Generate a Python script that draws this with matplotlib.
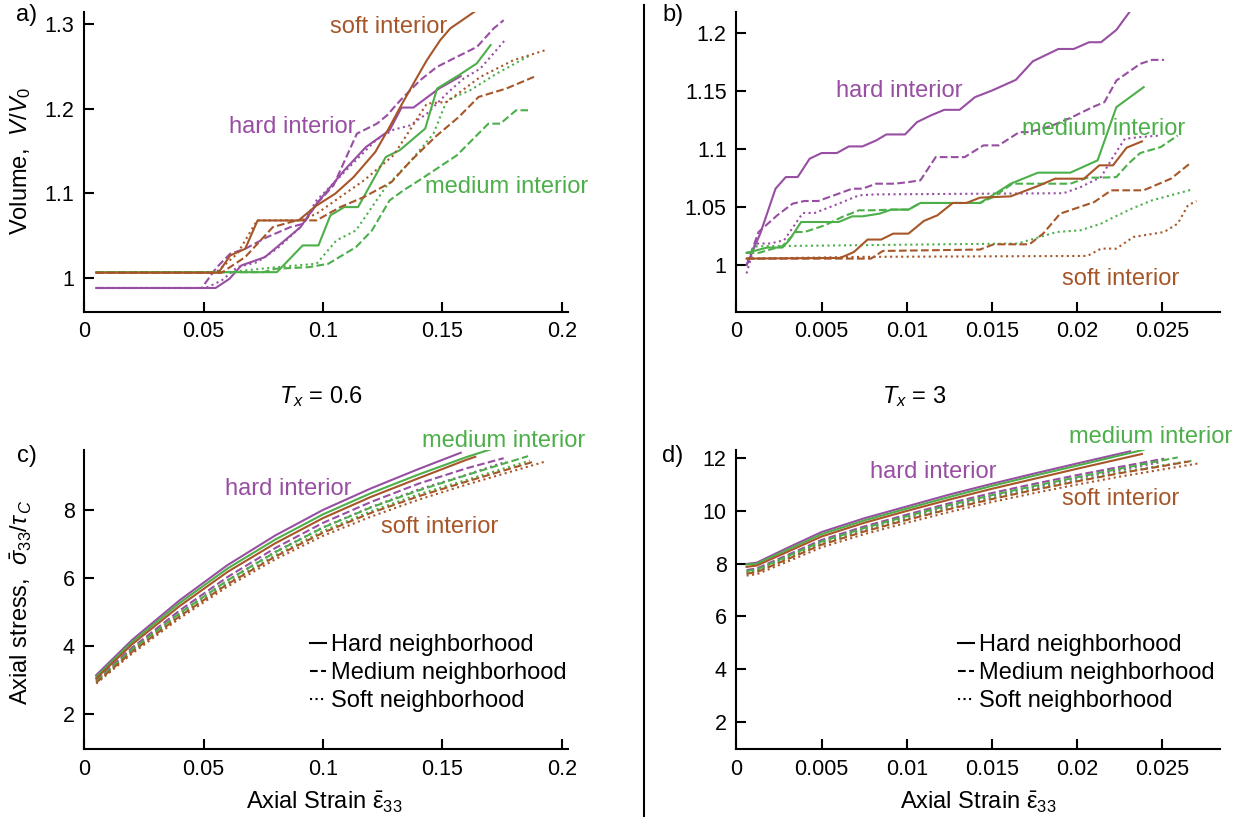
import matplotlib.pyplot as plt
from matplotlib.lines import Line2D

plt.rcParams['font.family'] = ['Liberation Sans', 'DejaVu Sans']
plt.rcParams['mathtext.fontset'] = 'custom'
plt.rcParams['mathtext.rm'] = 'Liberation Sans'
plt.rcParams['mathtext.it'] = 'Liberation Sans:italic'
plt.rcParams['mathtext.bf'] = 'Liberation Sans:bold'

W, H = 1247, 817

PURPLE = '#984ea3'   # hard interior
GREEN = '#4daf4a'    # medium interior
BROWN = '#a65628'    # soft interior

neighborhoods = ['Hard neighborhood', 'Medium neighborhood', 'Soft neighborhood']

# ---- a) volume, T_x = 0.6 -------------------------------------------------
# naming: <interior>_<neighborhood>
a_hard_hard = ([0.005, 0.055, 0.0608, 0.0658, 0.0757, 0.0906, 0.0973, 0.1089, 0.118, 0.1279, 0.1329, 0.1379, 0.1486, 0.1577],
               [0.988, 0.988, 0.9988, 1.0146, 1.0245, 1.06, 1.0876, 1.127, 1.1546, 1.1744, 1.2012, 1.2012, 1.2237, 1.2383])
a_hard_med = ([0.005, 0.0492, 0.0555, 0.0611, 0.0674, 0.0765, 0.0863, 0.0918, 0.0974, 0.1044, 0.1142, 0.1226, 0.1268, 0.1324, 0.1407, 0.1477, 0.1533, 0.1645, 0.1715, 0.1757],
              [0.988, 0.988, 1.0125, 1.0284, 1.0343, 1.048, 1.0599, 1.0639, 1.0876, 1.1092, 1.1704, 1.1822, 1.192, 1.2098, 1.2335, 1.2492, 1.2572, 1.2729, 1.2947, 1.3045])
a_hard_soft = ([0.005, 0.0509, 0.0575, 0.0641, 0.0724, 0.0807, 0.0906, 0.0973, 0.1056, 0.1138, 0.1221, 0.1296, 0.1365, 0.1435, 0.1519, 0.1589, 0.1659, 0.1702, 0.1768],
               [0.988, 0.988, 0.9968, 1.0126, 1.0185, 1.0343, 1.06, 1.0915, 1.1152, 1.1389, 1.1625, 1.1751, 1.1802, 1.194, 1.2178, 1.2355, 1.2473, 1.2611, 1.2828])
a_med_hard = ([0.005, 0.0807, 0.0915, 0.0981, 0.1031, 0.1089, 0.1147, 0.1263, 0.1321, 0.1428, 0.1478, 0.1569, 0.1644, 0.1702],
              [1.0067, 1.0067, 1.0383, 1.0383, 1.0738, 1.0836, 1.0836, 1.1428, 1.1507, 1.1763, 1.2237, 1.2394, 1.2533, 1.275])
a_med_med = ([0.005, 0.075, 0.08, 0.094, 0.1022, 0.1138, 0.1205, 0.1279, 0.1337, 0.1403, 0.1561, 0.1693, 0.1743, 0.1809, 0.1859],
             [1.0067, 1.0067, 1.0107, 1.0126, 1.0166, 1.0363, 1.056, 1.0915, 1.1034, 1.1152, 1.1448, 1.1822, 1.1822, 1.198, 1.198])
a_med_soft = ([0.005, 0.06, 0.0807, 0.0973, 0.1056, 0.1138, 0.1205, 0.1263, 0.137, 0.1463, 0.1519, 0.1617, 0.1728, 0.1868],
              [1.0067, 1.0067, 1.0126, 1.0166, 1.0442, 1.056, 1.0836, 1.1073, 1.1389, 1.1704, 1.2098, 1.2217, 1.2414, 1.263])
a_soft_hard = ([0.005, 0.0562, 0.0611, 0.0674, 0.0726, 0.0897, 0.0974, 0.1051, 0.1128, 0.1219, 0.1275, 0.1324, 0.1379, 0.1435, 0.1491, 0.1533, 0.1638],
               [1.006, 1.006, 1.0264, 1.0343, 1.0678, 1.0678, 1.0856, 1.0994, 1.119, 1.1487, 1.1763, 1.2019, 1.2296, 1.2572, 1.2808, 1.2947, 1.3151])
a_soft_med = ([0.005, 0.0575, 0.0674, 0.079, 0.089, 0.0973, 0.1072, 0.1172, 0.1287, 0.137, 0.147, 0.1569, 0.1652, 0.1768, 0.1884],
              [1.006, 1.006, 1.0245, 1.06, 1.0679, 1.0679, 1.0836, 1.0955, 1.1132, 1.1389, 1.1665, 1.1901, 1.2138, 1.2237, 1.2375])
a_soft_soft = ([0.005, 0.055, 0.0641, 0.0724, 0.0906, 0.0973, 0.1072, 0.1172, 0.1296, 0.1365, 0.1435, 0.1519, 0.1659, 0.1798, 0.1931],
               [1.006, 1.006, 1.0284, 1.0679, 1.0679, 1.0757, 1.0955, 1.1152, 1.145, 1.175, 1.2059, 1.2079, 1.2374, 1.2572, 1.269])

# ---- b) volume, T_x = 3 ---------------------------------------------------
b_hard_hard = ([0.0006, 0.0014, 0.0023, 0.0029, 0.0036, 0.0043, 0.005, 0.0059, 0.0066, 0.0074, 0.0082, 0.0088, 0.0099, 0.0106, 0.0114, 0.0122, 0.0131, 0.014, 0.015, 0.0164, 0.0174, 0.0189, 0.0198, 0.0207, 0.0214, 0.0223, 0.0231],
               [1.0, 1.0272, 1.0659, 1.0759, 1.0759, 1.0917, 1.0966, 1.0966, 1.1023, 1.1023, 1.1074, 1.1126, 1.1126, 1.1232, 1.1289, 1.1338, 1.1338, 1.1447, 1.1504, 1.1596, 1.1756, 1.1862, 1.1862, 1.192, 1.192, 1.2026, 1.2186])
b_hard_med = ([0.0006, 0.0013, 0.0024, 0.0033, 0.004, 0.0048, 0.006, 0.0068, 0.0074, 0.0082, 0.0093, 0.0101, 0.0108, 0.0117, 0.0134, 0.0145, 0.0154, 0.0166, 0.0172, 0.0185, 0.0197, 0.0209, 0.0216, 0.0223, 0.023, 0.0237, 0.0244, 0.0251],
              [1.0, 1.0286, 1.043, 1.053, 1.0553, 1.0553, 1.0616, 1.0659, 1.0659, 1.0702, 1.0702, 1.0716, 1.0731, 1.0931, 1.0931, 1.1032, 1.1032, 1.1146, 1.1146, 1.12, 1.1275, 1.1361, 1.1404, 1.159, 1.1662, 1.1734, 1.1768, 1.1768])
b_hard_soft = ([0.0006, 0.0011, 0.002, 0.0028, 0.0039, 0.0046, 0.006, 0.0072, 0.0082, 0.0192, 0.0202, 0.0214, 0.0221, 0.0228, 0.0237, 0.0249],
               [0.9929, 1.0187, 1.0187, 1.0215, 1.045, 1.045, 1.053, 1.0602, 1.061, 1.062, 1.0673, 1.0759, 1.0931, 1.1089, 1.1103, 1.1117])
b_med_hard = ([0.0006, 0.0018, 0.0027, 0.0031, 0.0038, 0.006, 0.0068, 0.0074, 0.0084, 0.0091, 0.0101, 0.0108, 0.0143, 0.0151, 0.0161, 0.0177, 0.0196, 0.0212, 0.0223, 0.0239],
              [1.0106, 1.0152, 1.0152, 1.0215, 1.0372, 1.0372, 1.0421, 1.0421, 1.0444, 1.0479, 1.0479, 1.0536, 1.0536, 1.0608, 1.0702, 1.0797, 1.0797, 1.0903, 1.1361, 1.1533])
b_med_med = ([0.0006, 0.0013, 0.0027, 0.0035, 0.004, 0.0052, 0.0062, 0.0072, 0.008, 0.0092, 0.0101, 0.0108, 0.0143, 0.0151, 0.0162, 0.0196, 0.0206, 0.0214, 0.0223, 0.023, 0.0237, 0.0249, 0.0259],
             [1.0106, 1.0106, 1.0165, 1.0286, 1.0286, 1.0344, 1.0415, 1.0473, 1.0473, 1.0479, 1.0479, 1.0536, 1.0536, 1.059, 1.0702, 1.0702, 1.0754, 1.0754, 1.0759, 1.0874, 1.0966, 1.1017, 1.1117])
b_med_soft = ([0.0006, 0.0012, 0.0165, 0.0175, 0.0188, 0.0202, 0.0214, 0.0221, 0.0232, 0.0244, 0.0267],
              [1.0106, 1.0163, 1.0187, 1.023, 1.0286, 1.0301, 1.0358, 1.041, 1.0487, 1.0559, 1.065])
b_soft_hard = ([0.0006, 0.0061, 0.0069, 0.0077, 0.0085, 0.0092, 0.0101, 0.011, 0.0118, 0.0127, 0.0135, 0.0143, 0.0161, 0.0178, 0.0187, 0.0204, 0.0213, 0.0221, 0.0229, 0.0238],
               [1.0057, 1.0063, 1.0114, 1.0221, 1.0221, 1.0272, 1.0272, 1.0381, 1.043, 1.0536, 1.0536, 1.0582, 1.0593, 1.0688, 1.0745, 1.0745, 1.086, 1.086, 1.1012, 1.1066])
b_soft_med = ([0.0006, 0.0079, 0.0086, 0.0143, 0.0151, 0.0172, 0.018, 0.019, 0.021, 0.022, 0.0239, 0.0255, 0.0266],
              [1.0057, 1.0057, 1.0123, 1.0135, 1.018, 1.018, 1.0272, 1.0444, 1.0544, 1.0645, 1.0645, 1.0745, 1.0874])
b_soft_soft = ([0.0006, 0.0075, 0.0206, 0.0214, 0.0223, 0.0233, 0.0251, 0.0259, 0.0265, 0.027],
               [1.0057, 1.0072, 1.008, 1.0143, 1.0143, 1.0243, 1.0286, 1.0358, 1.0516, 1.0553])

# ---- c) axial stress, T_x = 0.6 -------------------------------------------
c_hard_hard = ([0.005, 0.02, 0.04, 0.06, 0.08, 0.10, 0.12, 0.14, 0.1577],
               [3.15, 4.18, 5.35, 6.38, 7.25, 8.0, 8.63, 9.2, 9.68])
c_hard_med = ([0.005, 0.02, 0.04, 0.06, 0.08, 0.10, 0.12, 0.14, 0.16, 0.1757],
              [3.0, 3.95, 5.05, 6.03, 6.88, 7.62, 8.23, 8.77, 9.22, 9.52])
c_hard_soft = ([0.005, 0.02, 0.04, 0.06, 0.08, 0.10, 0.12, 0.14, 0.16, 0.1768],
               [2.97, 3.9, 4.97, 5.93, 6.77, 7.49, 8.08, 8.6, 9.03, 9.42])
c_med_hard = ([0.005, 0.02, 0.04, 0.06, 0.08, 0.10, 0.12, 0.14, 0.16, 0.1702],
              [3.1, 4.12, 5.27, 6.28, 7.13, 7.87, 8.49, 9.04, 9.55, 9.78])
c_med_med = ([0.005, 0.02, 0.04, 0.06, 0.08, 0.10, 0.12, 0.14, 0.16, 0.1859],
             [2.97, 3.9, 4.97, 5.93, 6.76, 7.48, 8.07, 8.57, 9.02, 9.58])
c_med_soft = ([0.005, 0.02, 0.04, 0.06, 0.08, 0.10, 0.12, 0.14, 0.16, 0.1867],
              [2.94, 3.85, 4.9, 5.85, 6.67, 7.38, 7.96, 8.46, 8.88, 9.45])
c_soft_hard = ([0.005, 0.02, 0.04, 0.06, 0.08, 0.10, 0.12, 0.14, 0.16, 0.1638],
               [3.05, 4.05, 5.18, 6.18, 7.02, 7.76, 8.38, 8.93, 9.47, 9.56])
c_soft_med = ([0.005, 0.02, 0.04, 0.06, 0.08, 0.10, 0.12, 0.14, 0.16, 0.1884],
              [2.93, 3.83, 4.88, 5.82, 6.63, 7.33, 7.91, 8.4, 8.83, 9.42])
c_soft_soft = ([0.005, 0.02, 0.04, 0.06, 0.08, 0.10, 0.12, 0.14, 0.16, 0.1931],
               [2.9, 3.78, 4.82, 5.75, 6.55, 7.24, 7.8, 8.3, 8.74, 9.42])

# ---- d) axial stress, T_x = 3 ---------------------------------------------
d_strain = [0.0006, 0.0012, 0.003, 0.005, 0.0075, 0.01, 0.0125, 0.015, 0.0175, 0.02, 0.0225]
d_hard_hard = (d_strain[:10] + [0.0231],
               [7.99, 8.04, 8.6, 9.2, 9.72, 10.17, 10.62, 11.03, 11.42, 11.8, 12.26])
d_hard_med = (d_strain + [0.0251],
              [7.76, 7.82, 8.33, 8.9, 9.41, 9.86, 10.29, 10.68, 11.03, 11.36, 11.67, 11.98])
d_hard_soft = (d_strain + [0.0249],
               [7.7, 7.76, 8.26, 8.82, 9.32, 9.77, 10.18, 10.56, 10.91, 11.24, 11.55, 11.85])
d_med_hard = (d_strain[:10] + [0.0239],
              [7.97, 8.0, 8.53, 9.12, 9.64, 10.09, 10.53, 10.95, 11.34, 11.72, 12.32])
d_med_med = (d_strain + [0.0259],
             [7.72, 7.78, 8.28, 8.84, 9.35, 9.8, 10.22, 10.6, 10.95, 11.28, 11.6, 12.03])
d_med_soft = (d_strain + [0.0267],
              [7.65, 7.71, 8.2, 8.76, 9.26, 9.7, 10.11, 10.49, 10.84, 11.16, 11.47, 11.9])
d_soft_hard = (d_strain[:10] + [0.0238],
               [7.88, 7.93, 8.45, 9.03, 9.55, 10.0, 10.43, 10.84, 11.22, 11.6, 12.16])
d_soft_med = (d_strain + [0.025, 0.0266],
              [7.62, 7.68, 8.17, 8.72, 9.22, 9.66, 10.07, 10.45, 10.8, 11.12, 11.43, 11.7, 11.88])
d_soft_soft = (d_strain + [0.0271],
               [7.55, 7.6, 8.08, 8.62, 9.12, 9.55, 9.96, 10.34, 10.68, 11.0, 11.3, 11.8])

a_ticks = [0, 0.05, 0.1, 0.15, 0.2]
a_ticklabels = ['0', '0.05', '0.1', '0.15', '0.2']
b_ticks = [0, 0.005, 0.01, 0.015, 0.02, 0.025]
b_ticklabels = ['0', '0.005', '0.01', '0.015', '0.02', '0.025']


def fx(px):
    return px / W


def fy(py):
    return 1 - py / H


def curves(hh, hm, hs, mh, mm, ms, sh, sm, ss):
    return [(hh, PURPLE, '-'), (hm, PURPLE, '--'), (hs, PURPLE, ':'),
            (mh, GREEN, '-'), (mm, GREEN, '--'), (ms, GREEN, ':'),
            (sh, BROWN, '-'), (sm, BROWN, '--'), (ss, BROWN, ':')]


def style(ax, xlim, ylim, xticks, xlabels, yticks, ylabels):
    ax.set_xlim(*xlim)
    ax.set_ylim(*ylim)
    ax.spines[['top', 'right']].set_visible(False)
    for s in ('left', 'bottom'):
        ax.spines[s].set_linewidth(1.5)
    ax.set_xticks(xticks, xlabels)
    ax.set_yticks(yticks, ylabels)
    ax.tick_params(direction='in', length=7, width=1.5, labelsize=15.5, pad=7)


fig = plt.figure(figsize=(W / 100, H / 100), dpi=100)
ax_a = fig.add_axes([0.0676, 0.6185, 0.3882, 0.3672])
ax_b = fig.add_axes([0.5905, 0.6185, 0.3881, 0.3672])
ax_c = fig.add_axes([0.0676, 0.0829, 0.3882, 0.3663])
ax_d = fig.add_axes([0.5905, 0.0829, 0.3881, 0.3663])

panels = [
    (ax_a, curves(a_hard_hard, a_hard_med, a_hard_soft, a_med_hard, a_med_med, a_med_soft, a_soft_hard, a_soft_med, a_soft_soft)),
    (ax_b, curves(b_hard_hard, b_hard_med, b_hard_soft, b_med_hard, b_med_med, b_med_soft, b_soft_hard, b_soft_med, b_soft_soft)),
    (ax_c, curves(c_hard_hard, c_hard_med, c_hard_soft, c_med_hard, c_med_med, c_med_soft, c_soft_hard, c_soft_med, c_soft_soft)),
    (ax_d, curves(d_hard_hard, d_hard_med, d_hard_soft, d_med_hard, d_med_med, d_med_soft, d_soft_hard, d_soft_med, d_soft_soft)),
]
for ax, lines in panels:
    for (xs, ys), color, ls in lines:
        ax.plot(xs, ys, color=color, ls=ls, lw=1.5)

style(ax_a, (0, 0.2028), (0.96, 1.3145), a_ticks, a_ticklabels, [1, 1.1, 1.2, 1.3], ['1', '1.1', '1.2', '1.3'])
style(ax_b, (0, 0.0284), (0.96, 1.2183), b_ticks, b_ticklabels, [1, 1.05, 1.1, 1.15, 1.2], ['1', '1.05', '1.1', '1.15', '1.2'])
style(ax_c, (0, 0.2028), (0.97, 9.76), a_ticks, a_ticklabels, [2, 4, 6, 8], ['2', '4', '6', '8'])
style(ax_d, (0, 0.0284), (0.965, 12.31), b_ticks, b_ticklabels, [2, 4, 6, 8, 10, 12], ['2', '4', '6', '8', '10', '12'])

# legends (neighborhood = line style)
handles = [Line2D([], [], color='k', lw=1.5, ls=s) for s in ('-', '--', ':')]
for ax, left in ((ax_c, 310), (ax_d, 958)):
    ax.legend(handles, neighborhoods, loc='upper left',
              bbox_to_anchor=(fx(left), fy(634)), bbox_transform=fig.transFigure,
              frameon=False, fontsize=17, handlelength=0.68, handletextpad=0.2,
              labelspacing=0.25, borderpad=0, borderaxespad=0)

# interior labels (interior = colour)
tk = dict(fontsize=17, ha='left', va='baseline')
fig.text(fx(330), fy(33), 'soft interior', color=BROWN, **tk)
fig.text(fx(229), fy(133), 'hard interior', color=PURPLE, **tk)
fig.text(fx(425), fy(193), 'medium interior', color=GREEN, **tk)
fig.text(fx(836), fy(97), 'hard interior', color=PURPLE, **tk)
fig.text(fx(1022), fy(135), 'medium interior', color=GREEN, **tk)
fig.text(fx(1062), fy(285), 'soft interior', color=BROWN, **tk)
fig.text(fx(422), fy(447), 'medium interior', color=GREEN, **tk)
fig.text(fx(225), fy(495), 'hard interior', color=PURPLE, **tk)
fig.text(fx(381), fy(533), 'soft interior', color=BROWN, **tk)
fig.text(fx(1069), fy(443), 'medium interior', color=GREEN, **tk)
fig.text(fx(870), fy(478), 'hard interior', color=PURPLE, **tk)
fig.text(fx(1062), fy(505), 'soft interior', color=BROWN, **tk)

# panel letters and loading labels
for px, py, s in ((16, 20.5, 'a)'), (662, 20.5, 'b)'), (17, 462, 'c)'), (662, 462, 'd)')):
    fig.text(fx(px), fy(py), s, fontsize=17, ha='left', va='baseline')
fig.text(fx(279), fy(403), r'$T_x$ = 0.6', fontsize=17, ha='left', va='baseline')
fig.text(fx(882), fy(403), r'$T_x$ = 3', fontsize=17, ha='left', va='baseline')

# axis titles
fig.text(fx(21), fy(161), r'Volume,  $V/V_0$', fontsize=17, rotation=90, ha='center', va='center')
fig.text(fx(21), fy(602), r'Axial stress,  $\bar{\sigma}_{33}/\tau_{\,C}$', fontsize=17, rotation=90, ha='center', va='center')
fig.text(fx(324), fy(802), r'Axial Strain $\bar{\mathrm{\varepsilon}}_{33}$', fontsize=17, ha='center', va='center')
fig.text(fx(978), fy(802), r'Axial Strain $\bar{\mathrm{\varepsilon}}_{33}$', fontsize=17, ha='center', va='center')

# divider between the two loading cases
fig.add_artist(Line2D([fx(644), fx(644)], [0, fy(5)], transform=fig.transFigure, color='k', lw=1.5))

fig.savefig('out.png', dpi=100)
